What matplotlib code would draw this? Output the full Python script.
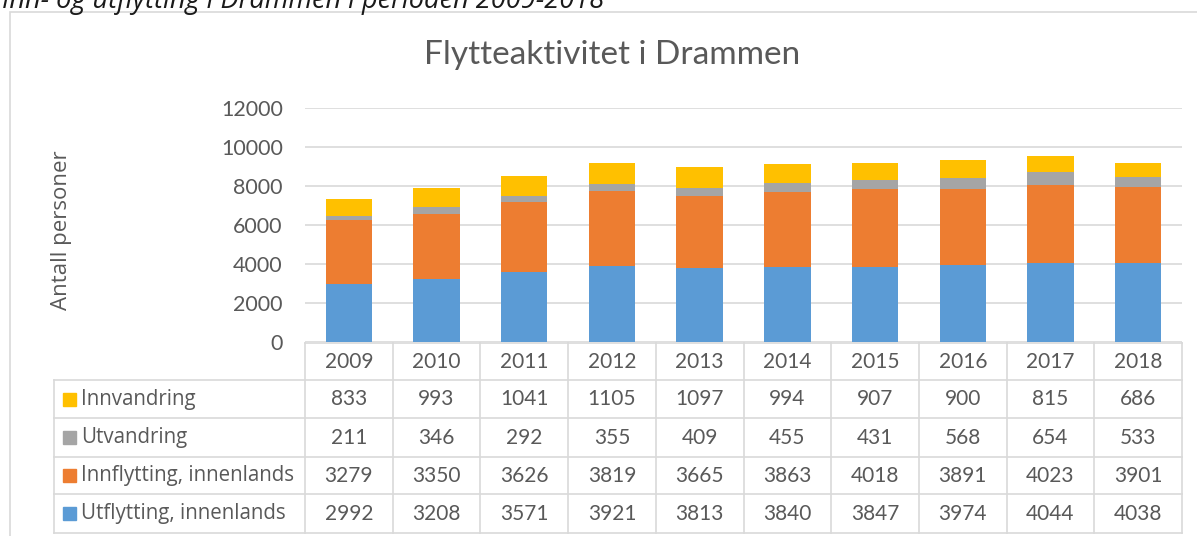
import matplotlib
matplotlib.use("Agg")
import matplotlib.pyplot as plt
import matplotlib.transforms as mtransforms
from matplotlib.patches import Rectangle
import numpy as np

years = ["2009", "2010", "2011", "2012", "2013", "2014", "2015", "2016", "2017", "2018"]
utflytting = [2992, 3208, 3571, 3921, 3813, 3840, 3847, 3974, 4044, 4038]
innflytting = [3279, 3350, 3626, 3819, 3665, 3863, 4018, 3891, 4023, 3901]
utvandring = [211, 346, 292, 355, 409, 455, 431, 568, 654, 533]
innvandring = [833, 993, 1041, 1105, 1097, 994, 907, 900, 815, 686]

series_names = ["Utflytting, innenlands", "Innflytting, innenlands", "Utvandring", "Innvandring"]
series_vals = [utflytting, innflytting, utvandring, innvandring]
colors = ["#5B9BD5", "#ED7D31", "#A5A5A5", "#FFC000"]
yticks = [0, 2000, 4000, 6000, 8000, 10000, 12000]

plt.rcParams['font.family'] = ['Lato', 'DejaVu Sans']
txt = "#595959"
grid = "#D9D9D9"

W, H = 1197, 536
fig = plt.figure(figsize=(W / 100, H / 100), dpi=100)

# chart border
fig.patches.append(Rectangle((9.5 / W, -0.1), 1.2, 1 - 12 / H + 0.1, transform=fig.transFigure,
                             fill=False, edgecolor=grid, linewidth=1.2))

# caption (cut off at top, as in the reference)
fig.text(0.002, 1 - 8 / H, "Inn- og utflytting i Drammen i perioden 2009-2018",
         fontsize=19.5, style='italic', color="#1a1a1a", va='baseline', ha='left',
         family=['Open Sans', 'DejaVu Sans'])

left, right, top, bot = 305, 1182, 108, 342
ax = fig.add_axes([left / W, 1 - bot / H, (right - left) / W, (bot - top) / H])
x = np.arange(len(years))
bottom = np.zeros(len(years))
for vals, c in zip(series_vals, colors):
    ax.bar(x, vals, width=0.53, bottom=bottom, color=c, zorder=3)
    bottom += np.array(vals)

ax.set_xlim(-0.5, len(years) - 0.5)
ax.set_ylim(0, 12000)
ax.set_yticks(yticks)
ax.set_yticklabels([str(v) for v in yticks], fontsize=15.5, color=txt)
ax.tick_params(axis='y', length=0, pad=16)
ax.set_xticks([])
for s in ax.spines.values():
    s.set_visible(False)
ax.yaxis.grid(True, color=grid, linewidth=1.2, zorder=0)
ax.set_axisbelow(True)

fig.text(62 / W, 1 - 230 / H, "Antall personer", rotation=90, fontsize=16, color=txt,
         ha='center', va='center', family=['Open Sans', 'DejaVu Sans'])
fig.text(612 / W, 1 - 55 / H, "Flytteaktivitet i Drammen", fontsize=24, color=txt,
         ha='center', va='center')

# data table
trans = mtransforms.blended_transform_factory(ax.transData, ax.transAxes)
ph = bot - top
colw = (right - left) / len(years)
def yf(p):
    return (bot - p) / ph

row_edges = [343, 380, 418, 457, 494, 533]
xlab = -0.5 - (left - 54) / colw
lw = 1.2
for i, p in enumerate(row_edges):
    x0 = -0.5 if i == 0 else xlab
    ax.plot([x0, len(years) - 0.5], [yf(p), yf(p)], color=grid, lw=lw, transform=trans, clip_on=False)
for k in range(len(years) + 1):
    xv = k - 0.5
    ax.plot([xv, xv], [yf(row_edges[0]), yf(row_edges[-1])], color=grid, lw=lw, transform=trans, clip_on=False)
ax.plot([xlab, xlab], [yf(row_edges[1]), yf(row_edges[-1])], color=grid, lw=lw, transform=trans, clip_on=False)

yc = yf((row_edges[0] + row_edges[1]) / 2)
for i, yr in enumerate(years):
    ax.text(i, yc, yr, transform=trans, ha='center', va='center', fontsize=15, color=txt, clip_on=False)

order = [3, 2, 1, 0]
for r, si in enumerate(order):
    yc = yf((row_edges[r + 1] + row_edges[r + 2]) / 2)
    ax.add_patch(Rectangle((xlab + 9 / colw, yc - 6.5 / ph), 13 / colw, 13 / ph, transform=trans,
                           color=colors[si], clip_on=False))
    ax.text(xlab + 27 / colw, yc, series_names[si], transform=trans, ha='left', va='center',
            fontsize=14.8, color=txt, clip_on=False, family=['Open Sans', 'DejaVu Sans'])
    for i, v in enumerate(series_vals[si]):
        ax.text(i, yc, str(v), transform=trans, ha='center', va='center', fontsize=15,
                color=txt, clip_on=False)

fig.savefig("out.png", dpi=100)
